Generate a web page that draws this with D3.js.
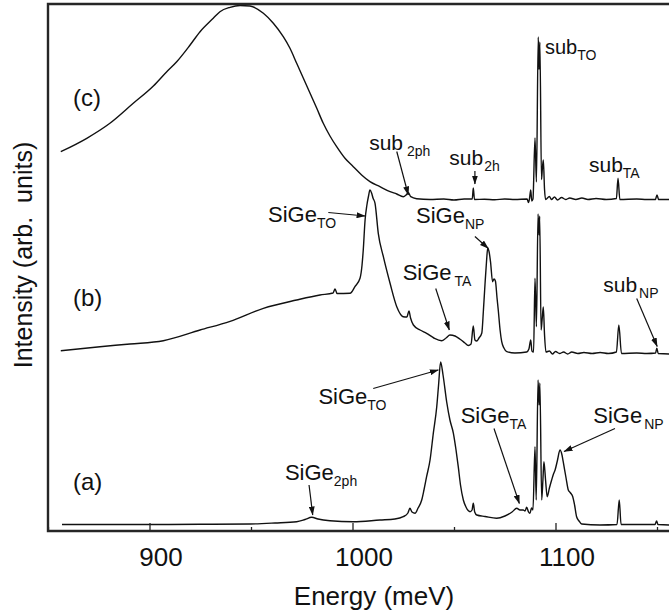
<!DOCTYPE html>
<html>
<head>
<meta charset="utf-8">
<script src="https://cdn.jsdelivr.net/npm/d3@7"></script>
<style>
  body { margin: 0; background: #fff; }
  svg { display: block; }
  text { font-family: "Liberation Sans", Arial, Helvetica, sans-serif; fill: #111; }
</style>
</head>
<body>
<svg id="chart" width="669" height="616"></svg>
<script>
// Photoluminescence spectra [energy (meV), intensity (arb.)], each relative to its own baseline
const spectrumA = [
  [856.9,0.1],[875.6,0.1],[900.2,0.1],[924.9,0.14],[949.5,0.2],[961.8,0.4],[972.5,0.66],[976.6,1.1],
  [979.9,1.54],[983.0,1.2],[988.9,0.86],[1000.4,0.66],[1013.5,1.0],[1020.9,1.2],[1025.0,1.66],[1027.3,2.4],
  [1028.3,3.34],[1029.3,2.6],[1030.8,2.34],[1032.3,3.4],[1034.1,5.0],[1035.2,7.0],[1036.5,9.66],[1038.2,13.0],
  [1039.8,18.34],[1041.5,23.66],[1042.4,28.0],[1043.4,32.6],[1044.6,30.0],[1046.4,24.6],[1048.0,21.0],
  [1049.7,18.34],[1051.0,15.0],[1052.1,11.66],[1053.2,8.0],[1054.6,5.0],[1055.9,3.6],[1057.9,2.66],
  [1058.9,3.0],[1059.5,4.34],[1060.2,2.6],[1061.2,2.0],[1065.3,1.7],[1071.0,1.34],[1075.1,1.8],[1078.6,2.6],
  [1080.9,3.34],[1082.5,3.0],[1084.1,3.0],[1085.0,2.8],[1085.8,3.54],[1086.7,2.6],[1087.4,2.34],[1088.2,3.4],
  [1088.9,3.0],[1089.9,15.66],[1090.5,5.0],[1091.4,29.0],[1091.9,24.0],[1092.3,28.4],[1093.2,5.0],
  [1093.8,9.0],[1094.3,12.66],[1095.1,9.0],[1095.9,5.66],[1097.0,7.4],[1098.1,9.0],[1099.0,10.2],
  [1099.8,11.0],[1101.0,13.0],[1102.2,15.0],[1103.2,14.0],[1103.8,12.66],[1105.2,9.4],[1106.3,7.0],
  [1107.4,6.4],[1108.5,5.66],[1109.4,4.0],[1110.4,1.66],[1111.6,0.8],[1112.9,0.2],[1121.9,0],[1130.3,0.1],
  [1131.4,5.0],[1132.3,0.1],[1149.0,0.1],[1149.8,0.8],[1150.5,0.1],[1156.4,0],[1162,0]
];

const spectrumB = [
  [856.3,0.56],[875.6,1.36],[890.4,1.9],[906.8,2.56],[924.9,4.7],[939.7,6.44],[956.1,9.04],[972.5,10.7],
  [984.0,11.7],[990.4,12.1],[991.4,12.9],[992.4,12.0],[998.8,12.04],[1001.2,13.36],[1003.7,15.04],
  [1004.7,17.7],[1005.3,20.7],[1006.2,26.7],[1007.1,29.7],[1007.9,31.5],[1008.6,32.7],[1009.4,32.1],
  [1010.1,31.1],[1011.1,30.04],[1012.7,24.04],[1015.2,19.36],[1018.5,14.04],[1021.8,9.36],[1025.0,7.36],
  [1026.8,7.3],[1027.8,8.5],[1028.6,7.1],[1030.0,5.7],[1033.3,4.7],[1036.5,4.04],[1040.1,3.1],[1043.9,2.56],
  [1046.1,3.1],[1048.0,3.7],[1050.5,3.5],[1053.0,2.84],[1055.4,2.1],[1057.0,1.6],[1058.4,1.9],[1059.5,5.5],
  [1060.3,2.7],[1061.2,2.5],[1062.3,3.1],[1063.7,4.1],[1064.5,8.7],[1065.3,14.04],[1066.0,18.3],
  [1066.6,21.04],[1067.3,20.3],[1068.0,18.3],[1069.0,14.36],[1069.7,14.9],[1070.4,14.5],[1071.2,11.1],
  [1071.8,8.7],[1072.7,4.7],[1073.5,2.36],[1074.6,1.1],[1076.0,0.36],[1080.0,0.1],[1085.8,0.3],[1086.9,0.9],
  [1087.8,2.7],[1088.4,0.5],[1089.2,0.3],[1089.9,15.04],[1090.6,5.36],[1091.4,27.9],[1091.9,23.7],
  [1092.2,27.5],[1092.9,4.7],[1093.4,6.7],[1094.0,9.3],[1094.6,3.7],[1095.3,0.3],[1097,0.5],[1098.5,-0.1],
  [1100,0.4],[1102,0],[1104,0.3],[1106,-0.1],[1108,0.3],[1111,0],[1114,0.2],[1118,0],[1122,0.2],[1126,0],
  [1130.0,0.3],[1131.2,5.7],[1132.5,0],[1140,0.1],[1145,0],[1149.3,0.1],[1149.9,1.04],[1150.6,0],
  [1156.4,-0.1],[1162,0]
];

const spectrumC = [
  [856.3,9.56],[869.1,12.24],[880.5,15.24],[892.0,19.24],[901.9,22.7],[908.5,25.56],[913.4,27.56],
  [920.0,30.9],[924.9,33.56],[931.4,36.24],[934.7,37.56],[939.7,38.44],[944.6,38.8],[949.5,38.7],
  [956.1,37.24],[961.0,35.24],[965.9,32.56],[969.2,30.24],[972.5,27.24],[975.8,24.24],[979.1,21.24],
  [982.4,18.24],[985.6,15.24],[988.9,12.7],[992.2,10.56],[996.3,8.24],[1000.4,6.56],[1004.5,4.9],
  [1008.6,3.56],[1013.5,2.56],[1018.5,1.56],[1021.8,1.1],[1025.0,0.56],[1026.4,0.9],[1027.5,1.36],
  [1028.7,0.56],[1031.6,0.16],[1038.2,0],[1045,0.1],[1050,-0.1],[1055,0.1],[1059.0,0.1],[1059.5,2.3],
  [1060.1,0],[1065,0.05],[1070,-0.05],[1075,0.1],[1080,0],[1086.0,0.1],[1086.7,-0.6],[1087.2,0.2],
  [1087.8,1.9],[1088.3,-0.3],[1088.9,0.1],[1089.9,12.3],[1090.6,3.5],[1091.5,32.5],[1091.9,26],
  [1092.3,31.5],[1093.1,4],[1093.5,6],[1094.0,7.9],[1094.6,2],[1095.1,0],[1097,0.6],[1098,0],[1099.5,0.5],
  [1101,-0.1],[1103,0.4],[1105,0],[1107,0.3],[1110,0],[1113,0.3],[1116,0],[1120,0.2],[1125,0],[1130.0,0.2],
  [1130.8,4.24],[1131.7,0],[1140,0.1],[1145,0],[1149.2,0],[1150.0,0.9],[1150.8,0],[1156,0],[1162,0]
];

// vertical stacking offsets of the three spectra
const spectra = [spectrumA, spectrumB, spectrumC];
const offsets = [1.2, 35.5, 66.3];
const sampleNames = ["(a)", "(b)", "(c)"];

// axis ticks
const majorTicks = [900, 1000, 1100];
const minorTicks = [850, 950, 1050, 1150];

// peak labels: base text and subscript
const peakBase = ["sub", "sub", "sub", "sub", "SiGe", "SiGe", "SiGe", "sub", "SiGe", "SiGe", "SiGe", "SiGe"];
const peakSub  = ["2ph", "2h", "TO", "TA", "TO", "NP", "TA", "NP", "TO", "2ph", "TA", "NP"];

// ---- layout ----
const W = 669, H = 616;
const mLeft = 48, mTop = 4, mBottom = 531;
const pxPerMeV = 2.03;
const x = d3.scaleLinear().domain([850, 1160]).range([mLeft, mLeft + 310 * pxPerMeV]);
const y = d3.scaleLinear().domain([0, 105.4]).range([mBottom, mTop]);

// label placement in data coordinates: text anchor, font size, subscript gap, arrow (from, to)
const peakLayout = [
  { at: [1008.2, 76.2], fs: 21, gap: 4, arrow: [[1021.8, 75.9], [1027.5, 67.2]] },
  { at: [1047.7, 73.2], fs: 21, gap: 1, arrow: [[1060.3, 72.0], [1060.3, 69.4]] },
  { at: [1094.8, 95.5], fs: 20, gap: 0, arrow: null },
  { at: [1116.5, 71.9], fs: 21, gap: 0, arrow: null },
  { at: [958.4, 61.9],  fs: 22, gap: 0, arrow: [[988.1, 63.7], [1006.2, 63.0]] },
  { at: [1031.3, 61.6], fs: 22, gap: 0, arrow: [[1060.3, 58.9], [1066.9, 56.5]] },
  { at: [1024.7, 50.2], fs: 22, gap: 3, arrow: [[1041.0, 48.5], [1047.7, 40.2]] },
  { at: [1123.5, 47.9], fs: 21, gap: 2, arrow: [[1140.0, 46.5], [1150.1, 36.9]] },
  { at: [983.2, 25.4],  fs: 22, gap: 0, arrow: [[1010.2, 28.5], [1042.3, 32.2]] },
  { at: [966.7, 10.2],  fs: 22, gap: 0, arrow: [[978.6, 9.2], [980.4, 3.2]] },
  { at: [1053.3, 21.7], fs: 22, gap: 0, arrow: [[1069.7, 20.5], [1082.2, 5.5]] },
  { at: [1118.6, 21.7], fs: 22, gap: 2, arrow: [[1129.3, 20.5], [1104.2, 15.9]] }
];
const sampleLabelAt = [[862.3, 8.2], [862.3, 45.0], [862.3, 85.0]];

const svg = d3.select("#chart");

const defs = svg.append("defs");
defs.append("clipPath").attr("id", "plotClip")
  .append("rect").attr("x", mLeft).attr("y", mTop).attr("width", W - mLeft).attr("height", mBottom - mTop);
defs.append("marker")
  .attr("id", "head").attr("markerUnits", "userSpaceOnUse")
  .attr("markerWidth", 9).attr("markerHeight", 6)
  .attr("refX", 8.5).attr("refY", 3).attr("orient", "auto")
  .append("path").attr("d", "M0,0 L9,3 L0,6 Z").attr("fill", "#111");

// spectra
const plot = svg.append("g").attr("clip-path", "url(#plotClip)");
spectra.forEach((s, i) => {
  const line = d3.line()
    .x(d => x(d[0]))
    .y(d => y(d[1] + offsets[i]))
    .curve(d3.curveMonotoneX);
  plot.append("path")
    .datum(s)
    .attr("d", line)
    .attr("fill", "none")
    .attr("stroke", "#111")
    .attr("stroke-width", 1.4)
    .attr("stroke-linejoin", "round");
});

// bottom axis with inward ticks
const axisMajor = d3.axisBottom(x).tickValues(majorTicks).tickSize(-8).tickSizeOuter(0).tickFormat(d3.format("d"));
const axisMinor = d3.axisBottom(x).tickValues(minorTicks).tickSize(-4).tickSizeOuter(0).tickFormat("");
const gMinor = svg.append("g").attr("transform", `translate(0,${mBottom})`).call(axisMinor);
const gMajor = svg.append("g").attr("transform", `translate(0,${mBottom})`).call(axisMajor);
[gMinor, gMajor].forEach(g => {
  g.select(".domain").remove();
  g.selectAll(".tick line").attr("stroke", "#222").attr("stroke-width", 1.3);
});
gMajor.selectAll(".tick text")
  .attr("y", 35).attr("dy", "0").attr("dx", 11)
  .attr("font-size", 26)
  .style("font-family", '"Liberation Sans", Arial, sans-serif')
  .attr("fill", "#111");

// frame (left, top, bottom)
svg.append("path")
  .attr("d", `M${W + 5},${mTop} H${mLeft} V${mBottom} H${W + 5}`)
  .attr("fill", "none").attr("stroke", "#262626").attr("stroke-width", 2.4);

// axis titles
svg.append("text")
  .attr("x", 374).attr("y", 605)
  .attr("text-anchor", "middle").attr("font-size", 26)
  .text("Energy (meV)");
svg.append("text")
  .attr("transform", "translate(32,255) rotate(-90)")
  .attr("text-anchor", "middle").attr("font-size", 25)
  .style("white-space", "pre")
  .text("Intensity (arb.  units)");

// sample labels
sampleNames.forEach((n, i) => {
  svg.append("text")
    .attr("x", x(sampleLabelAt[i][0])).attr("y", y(sampleLabelAt[i][1]))
    .attr("font-size", 24)
    .text(n);
});

// peak labels with arrows
peakBase.forEach((b, i) => {
  const L = peakLayout[i];
  const t = svg.append("text")
    .attr("x", x(L.at[0])).attr("y", y(L.at[1]))
    .attr("font-size", L.fs);
  t.append("tspan").text(b);
  t.append("tspan")
    .attr("dx", L.gap).attr("dy", 6)
    .attr("font-size", 14)
    .text(peakSub[i]);
  if (L.arrow) {
    svg.append("line")
      .attr("x1", x(L.arrow[0][0])).attr("y1", y(L.arrow[0][1]))
      .attr("x2", x(L.arrow[1][0])).attr("y2", y(L.arrow[1][1]))
      .attr("stroke", "#111").attr("stroke-width", 1.2)
      .attr("marker-end", "url(#head)");
  }
});
</script>
</body>
</html>
